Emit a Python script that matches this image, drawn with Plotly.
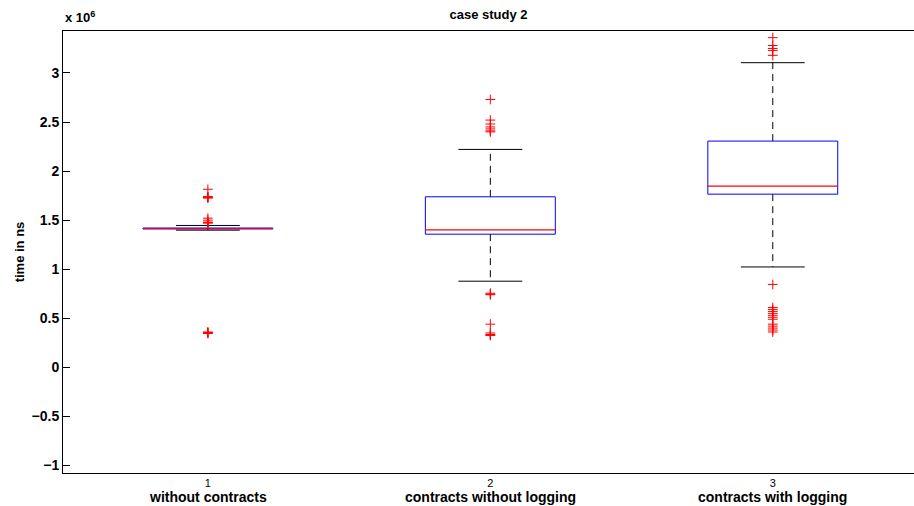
import plotly.graph_objects as go

# values in units of 10^6 ns
categories = ["without contracts", "contracts without logging", "contracts with logging"]
positions = [1, 2, 3]
lower_whisker = [1.398, 0.878, 1.023]
q1 = [1.410, 1.357, 1.765]
median = [1.415, 1.400, 1.847]
q3 = [1.420, 1.738, 2.306]
upper_whisker = [1.446, 2.221, 3.105]
outliers = [
    [1.815, 1.740, 1.735, 1.730, 1.725, 1.520, 1.500, 1.480, 1.475, 1.470, 0.360, 0.355, 0.350, 0.345],
    [2.730, 2.520, 2.480, 2.450, 2.430, 2.410, 2.400, 0.755, 0.745, 0.740, 0.440, 0.350, 0.335, 0.330, 0.325],
    [3.360, 3.280, 3.250, 3.230, 3.180, 0.845, 0.610, 0.590, 0.570, 0.550, 0.530, 0.510, 0.490,
     0.440, 0.420, 0.400, 0.380, 0.360],
]
ytick_vals = [-1, -0.5, 0, 0.5, 1, 1.5, 2, 2.5, 3]
ytick_text = ["\u22121", "\u22120.5", "0", "0.5", "1", "1.5", "2", "2.5", "3"]

BOX_HALF = 0.23
CAP_HALF = 0.113
FONT = "Liberation Sans, Arial, sans-serif"

fig = go.Figure()
for i, p in enumerate(positions):
    # whiskers
    fig.add_trace(go.Scatter(
        x=[p, p, None, p, p], y=[q3[i], upper_whisker[i], None, q1[i], lower_whisker[i]],
        mode="lines", line=dict(color="black", width=1, dash="7px,5px"),
        hoverinfo="skip", showlegend=False))
    # caps
    fig.add_trace(go.Scatter(
        x=[p - CAP_HALF, p + CAP_HALF, None, p - CAP_HALF, p + CAP_HALF],
        y=[upper_whisker[i], upper_whisker[i], None, lower_whisker[i], lower_whisker[i]],
        mode="lines", line=dict(color="black", width=1),
        hoverinfo="skip", showlegend=False))
    # box
    fig.add_trace(go.Scatter(
        x=[p - BOX_HALF, p + BOX_HALF, p + BOX_HALF, p - BOX_HALF, p - BOX_HALF],
        y=[q1[i], q1[i], q3[i], q3[i], q1[i]],
        mode="lines", line=dict(color="#0000ff", width=1),
        hoverinfo="skip", showlegend=False))
    # median
    fig.add_trace(go.Scatter(
        x=[p - BOX_HALF, p + BOX_HALF], y=[median[i], median[i]],
        mode="lines", line=dict(color="#ff0000", width=1.2),
        hoverinfo="skip", showlegend=False))
    # outliers
    fig.add_trace(go.Scatter(
        x=[p] * len(outliers[i]), y=outliers[i], mode="markers",
        marker=dict(symbol="cross-thin", size=7, line=dict(color="#ff0000", width=1)),
        showlegend=False))

annotations = [
    dict(text=f"<b>{c}</b>", xref="x", yref="paper", x=p, y=0,
         xanchor="center", yanchor="top", yshift=-14, showarrow=False,
         font=dict(size=14, family=FONT, color="black"))
    for p, c in zip(positions, categories)
]
annotations.append(dict(text="<b>x 10<sup>6</sup></b>", xref="paper", yref="paper",
                        x=0, y=1, xanchor="left", yanchor="bottom", yshift=4,
                        showarrow=False, font=dict(size=13, family=FONT, color="black")))

fig.update_layout(
    width=914, height=506,
    margin=dict(l=63, r=0, t=31, b=33),
    paper_bgcolor="white", plot_bgcolor="white",
    font=dict(family=FONT, color="black"),
    title=dict(text="<b>case study 2</b>", x=0.5345, xanchor="center",
               y=1 - 14 / 506, yanchor="middle", font=dict(size=13)),
    xaxis=dict(range=[0.487, 3.5], tickvals=positions, ticktext=[str(p) for p in positions],
               showline=True, linecolor="black", linewidth=1, mirror=True,
               ticks="", showgrid=False, zeroline=False, automargin=False,
               ticklabelstandoff=0,
               tickfont=dict(size=11, family=FONT)),
    yaxis=dict(range=[-1.077, 3.428], tickvals=ytick_vals, ticktext=ytick_text,
               showline=True, linecolor="black", linewidth=1,
               ticks="inside", ticklen=7, tickcolor="black",
               showgrid=False, zeroline=False, automargin=False,
               tickfont=dict(size=14, family=FONT, weight="bold"),
               title=dict(text="<b>time in ns</b>", font=dict(size=13), standoff=4)),
    annotations=annotations,
)

fig.write_html("out.html", config={"displayModeBar": False},
               post_script="document.body.style.margin='0';document.body.style.overflow='hidden';")
